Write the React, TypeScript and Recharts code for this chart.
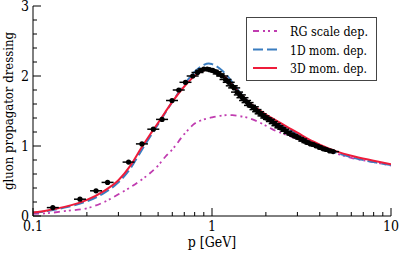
import { ComposedChart, Line, Scatter, XAxis, YAxis, Label } from 'recharts';

// momentum grid for the three DSE curves (GeV)
const pGrid = [0.1, 0.12, 0.15, 0.2, 0.25, 0.3, 0.35, 0.4, 0.45, 0.5, 0.55, 0.6, 0.7, 0.8, 0.9, 0.96, 1.0, 1.1, 1.2, 1.3, 1.4, 1.6, 1.8, 2.0, 2.3, 2.6, 3.0, 3.5, 4.0, 5.0, 6.0, 8.0, 10];
const rgScale = [0.03, 0.04, 0.07, 0.11, 0.2, 0.31, 0.41, 0.51, 0.61, 0.72, 0.85, 0.95, 1.17, 1.32, 1.38, 1.4, 1.41, 1.43, 1.44, 1.44, 1.43, 1.4, 1.35, 1.29, 1.21, 1.16, 1.1, 1.03, 0.98, 0.89, 0.83, 0.77, 0.72];
const oneD = [0.05, 0.07, 0.12, 0.21, 0.33, 0.48, 0.68, 0.92, 1.13, 1.31, 1.48, 1.63, 1.88, 2.06, 2.16, 2.18, 2.17, 2.11, 2.02, 1.91, 1.8, 1.63, 1.52, 1.43, 1.34, 1.26, 1.17, 1.07, 1.0, 0.9, 0.84, 0.77, 0.73];
const threeD = [0.05, 0.08, 0.13, 0.23, 0.36, 0.51, 0.72, 0.96, 1.16, 1.33, 1.49, 1.63, 1.85, 2.0, 2.08, 2.1, 2.09, 2.04, 1.97, 1.87, 1.78, 1.63, 1.53, 1.45, 1.36, 1.28, 1.19, 1.09, 1.02, 0.92, 0.86, 0.79, 0.74];

// lattice data
const latP = [0.129, 0.183, 0.225, 0.261, 0.342, 0.406, 0.47, 0.526, 0.598, 0.652, 0.711, 0.78, 0.83, 0.87, 0.9, 0.94, 0.97, 1.01, 1.05, 1.09, 1.14, 1.19, 1.24, 1.29, 1.33, 1.38, 1.43, 1.48, 1.53, 1.58, 1.63, 1.69, 1.75, 1.81, 1.87, 1.94, 2.01, 2.08, 2.16, 2.24, 2.32, 2.41, 2.5, 2.6, 2.7, 2.81, 2.92, 3.03, 3.15, 3.28, 3.41, 3.55, 3.7, 3.85, 4.01, 4.18, 4.36, 4.55, 4.75];
const latZ = [0.12, 0.24, 0.36, 0.48, 0.77, 1.03, 1.24, 1.38, 1.65, 1.8, 1.91, 2.0, 2.05, 2.08, 2.1, 2.1, 2.09, 2.08, 2.06, 2.03, 2.0, 1.95, 1.91, 1.86, 1.83, 1.77, 1.73, 1.69, 1.65, 1.62, 1.58, 1.56, 1.52, 1.49, 1.46, 1.43, 1.4, 1.38, 1.35, 1.32, 1.29, 1.26, 1.24, 1.21, 1.18, 1.16, 1.14, 1.12, 1.1, 1.07, 1.05, 1.03, 1.02, 1.0, 0.98, 0.96, 0.95, 0.93, 0.92];

const xMajor = [0.1, 1, 10];
const xTicks = [0.1, 0.2, 0.3, 0.4, 0.5, 0.6, 0.7, 0.8, 0.9, 1, 2, 3, 4, 5, 6, 7, 8, 9, 10];
const yMajor = [0, 1, 2, 3];
const yTicks = [0, 0.2, 0.4, 0.6, 0.8, 1, 1.2, 1.4, 1.6, 1.8, 2, 2.2, 2.4, 2.6, 2.8, 3];

const legendLabels = ['RG scale dep.', '1D mom. dep.', '3D mom. dep.'];
const legendWidths = [78, 77, 77];
const colors = ['#c03cb0', '#3a7dc0', '#ee1c3a'];
const dashes = ['6 4 2 3 2 4', '10 4', undefined];

const serif = { fontFamily: "'DejaVu Serif Condensed', 'DejaVu Serif', serif" };

const toRows = (vals: number[]) => pGrid.map((p, i) => ({ p, z: vals[i] }));
const latData = latP.map((p, i) => ({ p, z: latZ[i] }));

const isMajor = (list: number[], v: number) => list.some((m) => Math.abs(m - v) < 1e-9);

const BottomTick = ({ x, y, payload }: any) => {
    const major = isMajor(xMajor, payload.value);
    return (
        <g>
            <line x1={x} x2={x} y1={y} y2={y - (major ? 8 : 4)} stroke="#000" />
            {major && (
                <text x={x} y={y + 15} textAnchor="middle" style={serif} fontSize={14} fill="#000">
                    {payload.value}
                </text>
            )}
        </g>
    );
};

const TopTick = ({ x, y, payload }: any) => {
    const major = isMajor(xMajor, payload.value);
    return <line x1={x} x2={x} y1={y} y2={y + (major ? 8 : 4)} stroke="#000" />;
};

const LeftTick = ({ x, y, payload }: any) => {
    const major = isMajor(yMajor, payload.value);
    return (
        <g>
            <line x1={x} x2={x + (major ? 8 : 4)} y1={y} y2={y} stroke="#000" />
            {major && (
                <text x={x - 4} y={y + 5} textAnchor="end" style={serif} fontSize={14} fill="#000">
                    {payload.value}
                </text>
            )}
        </g>
    );
};

const RightTick = ({ x, y, payload }: any) => {
    const major = isMajor(yMajor, payload.value);
    return <line x1={x} x2={x - (major ? 8 : 4)} y1={y} y2={y} stroke="#000" />;
};

const LatticePoint = ({ cx, cy }: any) => (
    <g>
        <line x1={cx - 6} x2={cx + 6} y1={cy} y2={cy} stroke="#000" strokeWidth={1.5} />
        <circle cx={cx} cy={cy} r={2.6} fill="#000" />
    </g>
);

export default function App() {
    return (
        <div style={{ position: 'absolute', left: 0, top: 0, width: 399, height: 253, background: '#fff' }}>
            <ComposedChart width={399} height={253} margin={{ top: 6, right: 8, bottom: 0, left: 0 }}>
                <XAxis
                    dataKey="p"
                    type="number"
                    scale="log"
                    domain={[0.1, 10]}
                    ticks={xTicks}
                    interval={0}
                    allowDataOverflow
                    height={37}
                    tickSize={0}
                    tickMargin={0}
                    tickLine={false}
                    tick={<BottomTick />}
                    axisLine={{ stroke: '#000' }}
                >
                    <Label
                        content={({ viewBox }: any) => (
                            <text x={viewBox.x + viewBox.width / 2} y={viewBox.y + 31} textAnchor="middle" style={serif} fontSize={14} fill="#000">
                                p [GeV]
                            </text>
                        )}
                    />
                </XAxis>
                <XAxis
                    xAxisId="top"
                    dataKey="p"
                    type="number"
                    scale="log"
                    orientation="top"
                    domain={[0.1, 10]}
                    ticks={xTicks}
                    interval={0}
                    allowDataOverflow
                    height={0}
                    tickSize={0}
                    tickMargin={0}
                    tickLine={false}
                    tick={<TopTick />}
                    axisLine={{ stroke: '#000' }}
                />
                <YAxis
                    type="number"
                    domain={[0, 3]}
                    ticks={yTicks}
                    interval={0}
                    allowDataOverflow
                    width={33}
                    tickSize={0}
                    tickMargin={0}
                    tickLine={false}
                    tick={<LeftTick />}
                    axisLine={{ stroke: '#000' }}
                >
                    <Label
                        content={({ viewBox }: any) => {
                            const cy = viewBox.y + viewBox.height / 2;
                            return (
                                <text x={13} y={cy} transform={`rotate(-90, 13, ${cy})`} textAnchor="middle" style={serif} fontSize={13} fill="#000">
                                    gluon propagator dressing
                                </text>
                            );
                        }}
                    />
                </YAxis>
                <YAxis
                    yAxisId="right"
                    orientation="right"
                    type="number"
                    domain={[0, 3]}
                    ticks={yTicks}
                    interval={0}
                    allowDataOverflow
                    width={0}
                    tickSize={0}
                    tickMargin={0}
                    tickLine={false}
                    tick={<RightTick />}
                    axisLine={{ stroke: '#000' }}
                />
                <Line data={toRows(rgScale)} dataKey="z" type="monotone" stroke={colors[0]} strokeWidth={1.8} strokeDasharray={dashes[0]} dot={false} isAnimationActive={false} />
                <Scatter data={latData} dataKey="z" shape={<LatticePoint />} isAnimationActive={false} />
                <Line data={toRows(oneD)} dataKey="z" type="monotone" stroke={colors[1]} strokeWidth={2} strokeDasharray={dashes[1]} dot={false} isAnimationActive={false} />
                <Line data={toRows(threeD)} dataKey="z" type="monotone" stroke={colors[2]} strokeWidth={2} dot={false} isAnimationActive={false} />
            </ComposedChart>
            <svg width={131} height={64} style={{ position: 'absolute', left: 246, top: 17 }}>
                <rect x={0.5} y={0.5} width={130} height={63} fill="#fff" stroke="#444" />
                {legendLabels.map((label, i) => (
                    <g key={label}>
                        <line x1={7} x2={31} y1={14 + i * 18.5} y2={14 + i * 18.5} stroke={colors[i]} strokeWidth={2} strokeDasharray={dashes[i]} />
                        <text
                            x={44}
                            y={19 + i * 18.5}
                            style={serif}
                            fontSize={13}
                            fill="#000"
                            textLength={legendWidths[i]}
                            lengthAdjust="spacingAndGlyphs"
                        >
                            {label}
                        </text>
                    </g>
                ))}
            </svg>
        </div>
    );
}
